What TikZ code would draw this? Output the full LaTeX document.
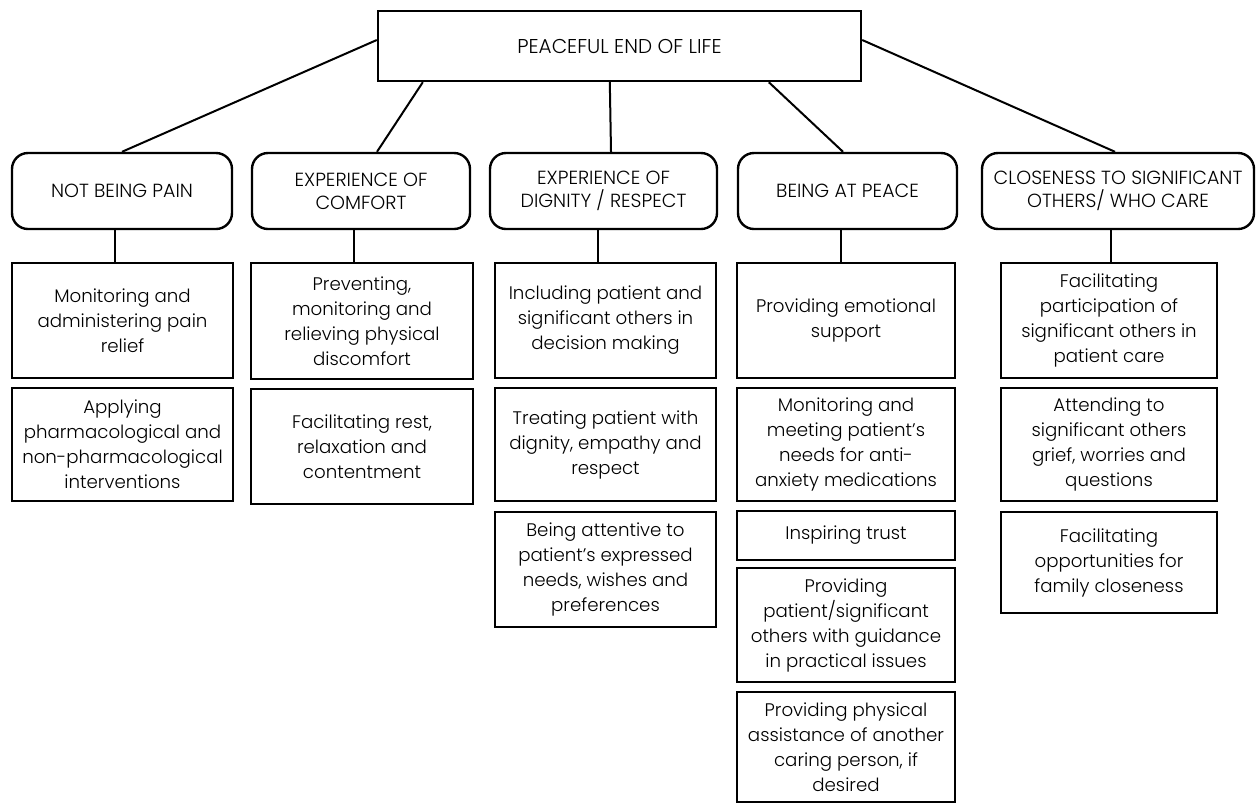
\documentclass[tikz,border=0pt]{standalone}
\usepackage{fontspec}
\setmainfont{Poppins}[UprightFont=* Light]
\usetikzlibrary{calc}
\tikzset{
  goalbox/.style={draw=black, line width=1.2pt, inner sep=0pt, minimum width=241.5pt, minimum height=35pt, font=\fontsize{10}{12}\selectfont},
  headbox/.style={draw=black, line width=1.2pt, rounded corners=8pt, inner sep=0pt, minimum height=38pt, align=center, font=\fontsize{9.5}{11.5}\selectfont},
  actbox/.style={draw=black, line width=1.2pt, inner sep=0pt, align=center, font=\fontsize{9.1}{12.5}\selectfont},
  link/.style={black, line width=1pt},
}
\begin{document}
\begin{tikzpicture}[x=0.5pt,y=-0.5pt]
\useasboundingbox (0,0) rectangle (1256,804);
% goal
\node [goalbox] (top) at (619.5,46) {PEACEFUL END OF LIFE};
% outcomes
\node [headbox, minimum width=110pt] (b1) at (122,191) {NOT BEING PAIN};
\node [headbox, minimum width=109pt] (b2) at (361,191) {EXPERIENCE OF\\COMFORT};
\node [headbox, minimum width=113.5pt] (b3) at (603.5,191) {EXPERIENCE OF\\DIGNITY / RESPECT};
\node [headbox, minimum width=109.5pt] (b4) at (847.5,191) {BEING AT PEACE};
\node [headbox, minimum width=136pt] (b5) at (1118,191) {CLOSENESS TO SIGNIFICANT\\OTHERS/ WHO CARE};
% interventions
\node [actbox, minimum width=110.5pt, minimum height=57.5pt] (c1a) at (122.5,320.5) {Monitoring and\\administering pain\\relief};
\node [actbox, minimum width=110.5pt, minimum height=56.5pt] (c1b) at (122.5,444.5) {Applying\\pharmacological and\\non-pharmacological\\interventions};
\node [actbox, minimum width=111pt, minimum height=58pt] (c2a) at (362,321) {Preventing,\\monitoring and\\relieving physical\\discomfort};
\node [actbox, minimum width=111pt, minimum height=57.5pt] (c2b) at (362,446.5) {Facilitating rest,\\relaxation and\\contentment};
\node [actbox, minimum width=110.5pt, minimum height=57.5pt] (c3a) at (605.5,320.5) {Including patient and\\significant others in\\decision making};
\node [actbox, minimum width=110.5pt, minimum height=56.5pt] (c3b) at (605.5,444.5) {Treating patient with\\dignity, empathy and\\respect};
\node [actbox, minimum width=110.5pt, minimum height=57.5pt] (c3c) at (605.5,569.5) {Being attentive to\\patient's expressed\\needs, wishes and\\preferences};
\node [actbox, minimum width=109pt, minimum height=57.5pt] (c4a) at (846,320.5) {Providing emotional\\support};
\node [actbox, minimum width=109pt, minimum height=56.5pt] (c4b) at (846,444.5) {Monitoring and\\meeting patient's\\needs for anti-\\anxiety medications};
\node [actbox, minimum width=109pt, minimum height=24.5pt] (c4c) at (846,535.5) {Inspiring trust};
\node [actbox, minimum width=109pt, minimum height=57pt] (c4d) at (846,625) {Providing\\patient/significant\\others with guidance\\in practical issues};
\node [actbox, minimum width=109pt, minimum height=55pt] (c4e) at (846,747) {Providing physical\\assistance of another\\caring person, if\\desired};
\node [actbox, minimum width=108pt, minimum height=57.5pt] (c5a) at (1109,320.5) {Facilitating\\participation of\\significant others in\\patient care};
\node [actbox, minimum width=108pt, minimum height=56.5pt] (c5b) at (1109,444.5) {Attending to\\significant others\\grief, worries and\\questions};
\node [actbox, minimum width=108pt, minimum height=50.5pt] (c5c) at (1109,562.5) {Facilitating\\opportunities for\\family closeness};
% goal to outcomes
\draw [link] ($(top.west)+(0,-6)$) -- (b1.north);
\draw [link] ($(top.south west)+(46,0)$) -- ($(b2.north)+(16,0)$);
\draw [link] ($(top.south west)+(233,0)$) -- ($(b3.north)+(7.5,0)$);
\draw [link] ($(top.south west)+(392,0)$) -- ($(b4.north)+(-4.5,0)$);
\draw [link] ($(top.east)+(0,-6)$) -- ($(b5.north)+(-3,0)$);
% outcomes to first intervention
\foreach \h/\c/\dh/\dc in {b1/c1a/-7/-7.5, b2/c2a/-7/-8, b3/c3a/-5.5/-7.5, b4/c4a/-6.5/-5, b5/c5a/-7/2}
  \draw [link] ($(\h.south)+(\dh,0)$) -- ($(\c.north)+(\dc,0)$);
\end{tikzpicture}
\end{document}
